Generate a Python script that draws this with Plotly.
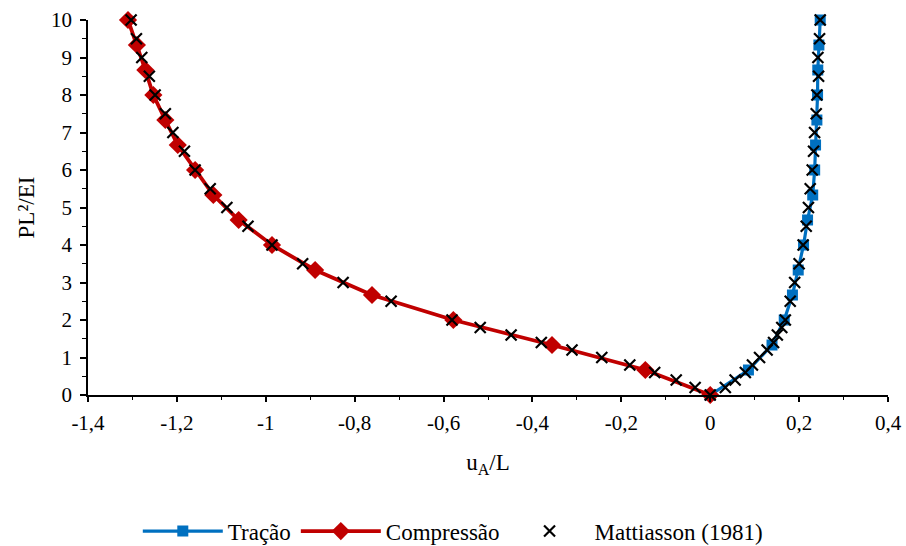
import plotly.graph_objects as go

# Tração (blue squares)
trac_p = [0, 0.667, 1.333, 2.0, 2.667, 3.333, 4.0, 4.667, 5.333, 6.0, 6.667, 7.333, 8.0, 8.667, 9.333, 10.0]
trac_u = [0, 0.086, 0.139, 0.1665, 0.185, 0.198, 0.210, 0.219, 0.2306, 0.235, 0.237, 0.240, 0.2415, 0.242, 0.2445, 0.2475]

# Compressão (red diamonds)
comp_p = [0, 0.667, 1.333, 2.0, 2.667, 3.333, 4.0, 4.667, 5.333, 6.0, 6.667, 7.333, 8.0, 8.667, 9.333, 10.0]
comp_u = [0, -0.146, -0.356, -0.578, -0.761, -0.889, -0.986, -1.061, -1.118, -1.159, -1.198, -1.226, -1.253, -1.271, -1.290, -1.310]

# Mattiasson (1981) - tension branch
mat_t_p = [0, 0.2, 0.4, 0.6, 0.8, 1.0, 1.2, 1.4, 1.6, 1.8, 2.0, 2.5, 3.0, 3.5, 4.0, 4.5, 5.0, 5.5, 6.0, 6.5, 7.0, 7.5, 8.0, 8.5, 9.0, 9.5, 10.0]
mat_t_u = [0, 0.034, 0.056, 0.079, 0.095, 0.111, 0.128, 0.1425, 0.151, 0.161, 0.169, 0.180, 0.190, 0.200, 0.209, 0.216, 0.221, 0.225, 0.2295, 0.2325, 0.2348, 0.2385, 0.240, 0.2438, 0.2423, 0.246, 0.2475]
# Mattiasson (1981) - compression branch
mat_c_p = [0.2, 0.4, 0.6, 0.8, 1.0, 1.2, 1.4, 1.6, 1.8, 2.0, 2.5, 3.0, 3.5, 4.0, 4.5, 5.0, 5.5, 6.0, 6.5, 7.0, 7.5, 8.0, 8.5, 9.0, 9.5, 10.0]
mat_c_u = [-0.034, -0.0765, -0.125, -0.181, -0.244, -0.311, -0.380, -0.448, -0.5175, -0.581, -0.718, -0.826, -0.917, -0.986, -1.040, -1.0875, -1.125, -1.159, -1.183, -1.209, -1.226, -1.249, -1.262, -1.279, -1.291, -1.303]

x_ticks = [-1.4, -1.2, -1.0, -0.8, -0.6, -0.4, -0.2, 0, 0.2, 0.4]
x_tick_text = ["-1,4", "-1,2", "-1", "-0,8", "-0,6", "-0,4", "-0,2", "0", "0,2", "0,4"]
y_ticks = [0, 1, 2, 3, 4, 5, 6, 7, 8, 9, 10]

FONT = "Liberation Serif, Times New Roman, serif"
FS = 21
FT = 23

fig = go.Figure()
fig.add_trace(go.Scatter(
    x=trac_u, y=trac_p, name="Tração", mode="lines+markers",
    line=dict(color="#0070C0", width=3.2),
    marker=dict(symbol="square", size=11, color="#0070C0"),
    cliponaxis=False))
fig.add_trace(go.Scatter(
    x=comp_u, y=comp_p, name="Compressão", mode="lines+markers",
    line=dict(color="#C00000", width=3.8),
    marker=dict(symbol="diamond", size=14, color="#C00000"),
    cliponaxis=False))
mat_u = mat_t_u + [None] + mat_c_u
mat_p = mat_t_p + [None] + mat_c_p
fig.add_trace(go.Scatter(
    x=mat_u, y=mat_p, name="Mattiasson (1981)", mode="markers",
    marker=dict(symbol="x-thin", size=11, color="black",
                line=dict(color="black", width=2.2)),
    cliponaxis=False))

fig.update_layout(
    width=906, height=546,
    margin=dict(l=88, r=18, t=20, b=151, autoexpand=False),
    paper_bgcolor="white", plot_bgcolor="white",
    separators=",.",
    font=dict(family=FONT, size=FS, color="black"),
    showlegend=True,
    legend=dict(orientation="h", x=0.456, xanchor="center",
                y=-0.363, yanchor="middle", font=dict(size=FT, family=FONT),
                itemwidth=80),
    xaxis=dict(range=[-1.4, 0.4], tickvals=x_ticks, ticktext=x_tick_text,
               ticks="outside", ticklen=5, ticklabelstandoff=3,
               tickwidth=1.5, tickcolor="black", showgrid=False, zeroline=False,
               showline=True, linecolor="black", linewidth=1.5, tickangle=0,
               minor=dict(dtick=0.1, ticks="outside", ticklen=3.5, tickwidth=1.2, tickcolor="black", showgrid=False),
               title=dict(text="u<sub>A</sub>/L", font=dict(size=FT, family=FONT), standoff=20),
               tickfont=dict(size=FS, family=FONT)),
    xaxis2=dict(range=[-1.4, 0.4], overlaying="x", anchor="y", side="bottom",
                tickvals=x_ticks, ticks="inside", ticklen=5, tickwidth=1.5, tickcolor="black",
                showticklabels=False, showgrid=False, zeroline=False, showline=False,
                minor=dict(dtick=0.1, ticks="inside", ticklen=3.5, tickwidth=1.2, tickcolor="black", showgrid=False)),
    yaxis=dict(range=[0, 10], tickvals=y_ticks, ticks="outside", ticklen=6,
               ticklabelstandoff=4,
               tickwidth=1.5, tickcolor="black", showgrid=False, zeroline=False,
               showline=True, linecolor="black", linewidth=1.5,
               minor=dict(dtick=0.5, ticks="outside", ticklen=4, tickwidth=1.2, tickcolor="black", showgrid=False),
               title=dict(text="PL²/EI", font=dict(size=FT, family=FONT), standoff=10),
               tickfont=dict(size=FS, family=FONT)),
)

fig.write_html("out.html")
